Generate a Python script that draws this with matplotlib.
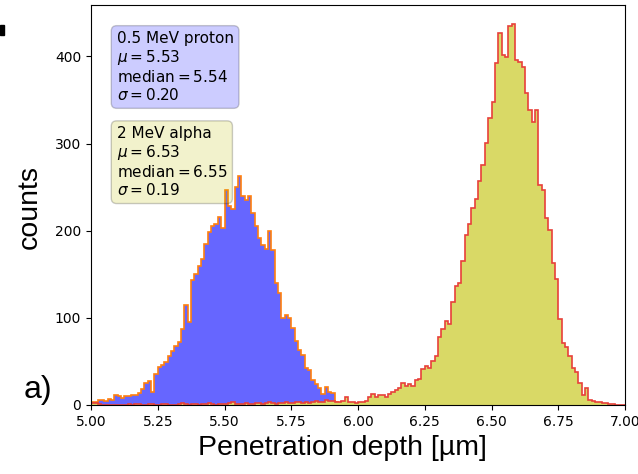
import numpy as np
import matplotlib
matplotlib.use("Agg")
import matplotlib.pyplot as plt
from matplotlib.patches import Rectangle

# Histogram binning (0.0125 um bins from 5.0 to 7.0)
bin_lo, bin_hi, n_bins = 5.0, 7.0, 160

# 0.5 MeV proton penetration-depth counts per bin (bins 0..79, 5.0-6.0 um)
proton_counts = [
    3, 3, 6, 6, 5, 7, 6, 12, 10, 8,
    10, 10, 11, 12, 14, 18, 25, 27, 15, 36,
    44, 46, 49, 56, 62, 68, 72, 87, 115, 95,
    144, 150, 160, 168, 185, 199, 205, 208, 216, 203,
    247, 228, 225, 250, 263, 240, 235, 240, 220, 205,
    192, 184, 179, 200, 178, 140, 128, 100, 103, 100,
    88, 74, 63, 57, 42, 40, 29, 24, 20, 13,
    21, 15, 14, 4, 2, 1, 1, 0, 0, 0,
]

# 2 MeV alpha penetration-depth counts per bin (bins 0..159, 5.0-7.0 um)
alpha_counts = [
    2, 2, 1, 0, 0, 0, 0, 0, 0, 0,
    0, 1, 0, 1, 1, 0, 0, 1, 1, 0,
    0, 1, 1, 0, 0, 0, 1, 2, 1, 0,
    1, 1, 0, 1, 1, 2, 1, 0, 1, 1,
    1, 2, 3, 1, 1, 1, 2, 1, 1, 2,
    2, 1, 2, 3, 2, 1, 2, 2, 3, 2,
    2, 3, 4, 2, 3, 2, 3, 5, 3, 4,
    6, 5, 5, 4, 4, 5, 9, 4, 3, 2,
    3, 4, 5, 9, 13, 9, 12, 12, 9, 13,
    15, 17, 19, 25, 22, 24, 22, 29, 30, 41,
    45, 42, 51, 56, 78, 87, 96, 93, 118, 137,
    140, 165, 195, 208, 226, 236, 257, 275, 301, 329,
    348, 392, 427, 402, 399, 435, 437, 396, 394, 388,
    358, 339, 325, 339, 252, 247, 215, 201, 163, 145,
    99, 71, 67, 56, 43, 38, 25, 11, 20, 6,
    5, 4, 3, 2, 2, 1, 1, 0, 0, 0,
]

proton_label = "0.5 MeV proton\n$\\mu=5.53$\nmedian$=5.54$\n$\\sigma=0.20$"
alpha_label = "2 MeV alpha\n$\\mu=6.53$\nmedian$=6.55$\n$\\sigma=0.19$"

x_ticks = [5.00, 5.25, 5.50, 5.75, 6.00, 6.25, 6.50, 6.75, 7.00]
y_ticks = [0, 100, 200, 300, 400]

edges = np.linspace(bin_lo, bin_hi, n_bins + 1)
p_edges = edges[: len(proton_counts) + 1]

W, H = 638, 474
fig = plt.figure(figsize=(W / 100, H / 100), dpi=100)
ax = fig.add_axes([91 / W, (H - 405) / H, (625 - 91) / W, (405 - 5) / H])

# proton histogram
ax.stairs(proton_counts, p_edges, baseline=0, fill=True, color="#6666ff", lw=0)
ax.stairs(proton_counts, p_edges, baseline=0, fill=False, color="#ff7f0e", lw=1.2)
# alpha histogram
ax.stairs(alpha_counts, edges, baseline=0, fill=True, color="#d9d966", lw=0)
ax.stairs(alpha_counts, edges, baseline=0, fill=False, color="#e8403a", lw=1.2)

ax.set_xlim(bin_lo, bin_hi)
ax.set_ylim(0, 459)
ax.set_xticks(x_ticks)
ax.set_xticklabels([f"{t:.2f}" for t in x_ticks])
ax.set_yticks(y_ticks)
ax.tick_params(labelsize=10)

ax.text(0.048, 0.935, proton_label, transform=ax.transAxes, fontsize=11,
        va="top", ha="left", linespacing=1.15,
        bbox=dict(boxstyle="round,pad=0.35", facecolor="b", alpha=0.2))
ax.text(0.048, 0.697, alpha_label, transform=ax.transAxes, fontsize=11,
        va="top", ha="left", linespacing=1.15,
        bbox=dict(boxstyle="round,pad=0.35", facecolor="y", alpha=0.2))

big = dict(family=["Liberation Sans", "DejaVu Sans"], fontsize=20.5)
fig.text(30 / W, (H - 207) / H, "counts", rotation=90, ha="center", va="center", **big)
fig.text(342 / W, (H - 448) / H, "Penetration depth [µm]", ha="center", va="center", **big)
fig.text(38 / W, (H - 390) / H, "a)", ha="center", va="center",
         family=["Liberation Sans", "DejaVu Sans"], fontsize=23)

fig.patches.append(Rectangle((0, (H - 35) / H), 4 / W, 10 / H,
                             transform=fig.transFigure, color="black"))

fig.savefig("out.png", dpi=100)
